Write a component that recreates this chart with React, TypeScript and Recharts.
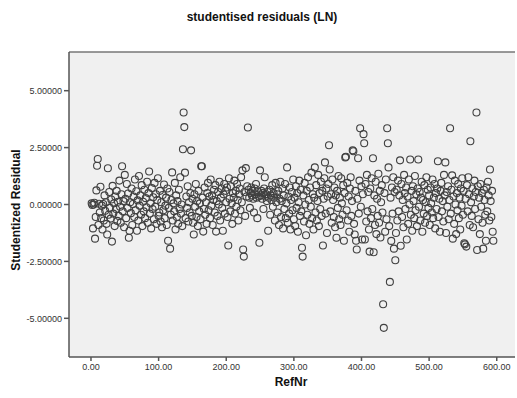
import React from "react";
import {
  ScatterChart,
  Scatter,
  XAxis,
  YAxis,
  CartesianGrid,
  ReferenceLine,
} from "recharts";

// studentized residuals, RefNr 1..595 in order
const ref001 = [
  0.05, -0.02, -1.05, 0.0, 0.08, -1.5, -0.55, 0.62, 1.7, 2.0,
  -0.9, 0.03, -0.35, 0.78, -0.6, -0.05, -1.1, 0.02, -0.7, 0.4,
  -0.28, 0.1, -0.85, -1.32, 1.59, -0.45, 0.55, -0.15, -0.62, 0.22,
  -1.63, 0.82, -0.4, 0.05, -0.95, 0.35, -0.2, 0.6, -0.72, 0.12,
  -0.5, 1.05, -0.1, -0.8, 0.45, 1.68, -0.3, 0.15, -1.0, 1.3,
];
const ref051 = [
  0.25, -0.6, 0.9, -0.15, 0.48, -1.46, -1.15, 0.1, -0.38, 0.7,
  -0.9, 0.02, 0.35, -0.55, 1.1, -0.25, 0.58, -1.15, 0.18, -0.7,
  1.25, -0.05, 0.4, -0.45, 0.85, -0.95, 0.12, -0.3, 0.65, -0.6,
  0.28, -0.12, 1.0, -0.8, 0.5, 1.45, -0.4, 0.05, -1.05, 0.72,
  -0.2, 0.32, -0.65, 0.95, -0.1, 0.45, -0.85, 0.2, 1.15, -0.5,
];
const ref101 = [
  -0.35, 0.6, -0.75, 0.1, -1.0, 0.42, -0.25, 0.88, -0.6, -0.05,
  0.3, -0.9, 0.7, -1.59, -0.15, 0.55, -1.94, -0.45, 0.2, 1.41,
  -0.7, 0.05, -0.3, 0.95, -1.1, 0.4, -0.55, 0.15, -0.85, 0.65,
  -0.2, 1.2, -0.4, 0.0, -0.95, 2.43, 4.04, 3.4, 1.4, -0.6,
  0.35, -0.15, 0.8, -0.75, 0.1, -0.35, 0.5, 2.38, -0.5, 0.25,
];
const ref151 = [
  -0.8, -1.32, 0.45, -0.1, 0.9, -0.55, 0.15, -0.95, 0.6, -0.3,
  0.05, -0.65, 1.68, 1.68, 0.3, -1.19, -0.2, 0.75, -0.45, 0.1,
  -0.85, 0.5, 0.95, -0.25, 0.35, -0.6, 1.1, -0.05, 0.4, -0.9,
  0.2, 0.65, -0.35, 0.85, -1.19, 0.15, -0.5, 0.55, 0.0, 1.0,
  -0.7, 0.3, 0.7, -0.15, -1.15, 0.45, 0.9, -0.4, 0.6, 0.1,
];
const ref201 = [
  0.75, -0.55, -1.8, 1.15, 0.25, -0.3, 0.8, 0.05, -0.85, 0.5,
  0.3, 1.05, -0.4, 0.6, -0.1, 0.9, 0.2, -0.7, 0.45, 0.7,
  -0.25, 1.2, 0.1, 1.5, -1.98, -2.29, 0.55, -0.5, 1.6, 0.35,
  0.8, 3.38, 0.65, 0.3, -0.15, 0.5, 0.75, 0.4, 0.6, 0.25,
  -0.35, 0.7, 0.45, 0.9, 0.3, -0.6, 0.55, 0.35, -1.68, 1.5,
];
const ref251 = [
  0.4, 0.6, 0.25, 0.5, -0.2, 0.7, 1.2, 0.35, 0.45, 0.15,
  0.55, -1.15, 0.3, 0.65, -0.45, 0.4, 0.2, 0.85, -0.1, 0.5,
  0.3, -0.7, 0.95, 0.1, 0.45, -0.35, 0.6, -0.9, 0.25, 1.0,
  -0.55, 0.15, 0.7, -1.05, 0.4, -0.2, 0.9, -0.6, 0.05, 1.63,
  -0.8, 0.35, -0.4, 0.75, -1.1, 0.2, 0.55, -0.25, 1.1, -0.65,
];
const ref301 = [
  0.3, -0.95, 0.8, -0.15, 0.5, -1.2, 0.1, 1.05, -0.5, 0.65,
  -0.3, -1.9, -2.29, 0.4, -0.75, 0.95, 0.0, -1.35, 0.6, -0.45,
  1.2, 0.2, -0.85, 0.75, -0.1, 1.4, -0.6, 0.45, -1.1, 0.3,
  1.63, -0.35, 0.85, -0.7, 0.15, 1.3, -0.95, 0.5, -0.2, 1.0,
  -0.5, 0.6, -1.8, 0.25, 1.15, 1.85, -0.4, 0.7, -1.25, 0.35,
];
const ref351 = [
  0.9, 2.6, 1.54, -0.3, 0.45, -0.8, 1.1, 0.2, -0.55, 0.75,
  -1.0, 0.4, -1.46, 0.6, -0.15, 1.25, -0.65, 0.3, -0.9, 1.15,
  0.05, -0.45, 0.85, -1.59, 0.5, 2.07, 2.1, -0.25, 0.95, -0.7,
  0.35, -1.2, 0.7, 1.2, -0.5, 0.15, 2.38, 2.34, -0.85, -1.32,
  0.6, -1.59, -1.98, 0.25, 2.03, -0.4, 1.05, 3.35, -0.1, 0.8,
];
const ref401 = [
  -1.54, 0.45, 3.09, 2.69, -1.54, 0.9, -0.75, 1.3, -0.3, 0.55,
  -1.1, -2.07, 0.7, -0.6, 1.15, -0.2, 2.03, -2.1, 0.4, -0.9,
  1.0, -1.3, 0.25, -0.5, 1.35, -0.8, 0.6, -1.45, 0.1, 0.85,
  -0.35, -4.38, -5.42, 0.5, -1.2, 1.1, -0.65, 3.35, 2.69, 1.63,
  -0.95, -3.4, 0.3, -1.6, 0.75, -0.4, 1.2, -1.94, 0.55, -2.45,
];
const ref451 = [
  -1.25, 0.65, -0.7, 1.05, -0.3, 0.4, 1.94, -1.81, 0.9, -0.55,
  0.2, -1.0, 1.3, 0.5, -0.2, 0.75, -1.54, 0.35, -0.85, 1.1,
  0.0, 1.98, -0.45, 0.6, -1.15, 0.8, 0.15, -0.6, 1.25, -0.25,
  0.45, -0.95, 0.7, 1.98, -0.1, 0.55, -0.7, 0.3, 1.0, -1.2,
  0.2, -0.4, 0.85, -0.8, 0.1, 1.2, -0.5, 0.65, -0.15, 0.4,
];
const ref501 = [
  -0.9, 0.75, 0.05, -0.35, 1.1, -0.6, 0.3, 0.9, -1.05, 0.5,
  -0.2, 0.7, 1.9, -0.55, 0.25, -1.2, 0.6, 0.95, -0.3, 0.15,
  -0.75, 1.3, 0.4, 1.85, -1.25, 0.55, -0.1, 0.8, -0.65, 0.2,
  3.35, -0.4, 0.65, 1.28, -1.5, 0.35, -0.85, 1.05, 0.0, -1.3,
  0.5, -0.25, 0.9, -0.6, 0.3, -1.1, 0.7, -0.05, 1.15, -0.45,
];
const ref551 = [
  0.6, -1.7, -1.75, 0.25, -1.85, 0.85, -0.3, 1.2, 0.45, -0.9,
  2.78, 0.1, -0.5, 0.7, -1.0, 0.35, 1.05, -0.2, 0.55, 4.04,
  -2.0, 0.8, -0.65, 0.3, -1.3, 0.9, -0.1, 0.5, -0.8, -1.94,
  0.65, 0.2, -0.45, -1.59, 0.75, -0.3, 1.0, 0.4, -0.7, 1.54,
  0.15, -0.55, 0.6, -1.2, -1.59,
];

const xTicks = [0, 100, 200, 300, 400, 500, 600];
const yTicks = [-5, -2.5, 0, 2.5, 5];

const data = [
  ref001, ref051, ref101, ref151, ref201, ref251,
  ref301, ref351, ref401, ref451, ref501, ref551,
]
  .flat()
  .map((residual, i) => ({ refNr: i + 1, residual }));

const font = "'Liberation Sans', Arial, sans-serif";
const axisColor = "#555";

const Ring = (props: any) => (
  <circle cx={props.cx} cy={props.cy} r={3.5} fill="none" stroke="#404040" strokeWidth={1.1} />
);

export default function App() {
  return (
    <div style={{ position: "absolute", left: 0, top: 0, width: 517, height: 398, background: "#fff" }}>
      <svg width={517} height={398} style={{ position: "absolute", left: 0, top: 0 }}>
        <text x={262} y={21} textAnchor="middle" fontFamily={font} fontSize={12} fontWeight="bold" fill="#111">
          studentised residuals (LN)
        </text>
        <text
          x={0}
          y={0}
          transform="translate(20,210) rotate(-90)"
          textAnchor="middle"
          fontFamily={font}
          fontSize={12}
          fontWeight="bold"
          fill="#111"
        >
          Studentized Residual
        </text>
        <text x={291} y={386} textAnchor="middle" fontFamily={font} fontSize={12} fontWeight="bold" fill="#111">
          RefNr
        </text>
      </svg>
      <div style={{ position: "absolute", left: 0, top: 0 }}>
        <ScatterChart width={517} height={398} margin={{ top: 52, right: 2, bottom: 11, left: 9 }}>
          <CartesianGrid fill="#f0f0f0" stroke="none" horizontal={false} vertical={false} />
          <XAxis
            type="number"
            dataKey="refNr"
            domain={[-32.5, 627]}
            ticks={xTicks}
            tickFormatter={(v) => Number(v).toFixed(2)}
            height={30}
            tickSize={4}
            tickMargin={3}
            stroke={axisColor}
            strokeWidth={1.5}
            tick={{ fontSize: 9, fill: "#333", fontFamily: font }}
            allowDataOverflow
          />
          <YAxis
            type="number"
            dataKey="residual"
            domain={[-6.7, 6.7]}
            ticks={yTicks}
            tickFormatter={(v) => Number(v).toFixed(5)}
            width={60}
            tickSize={5}
            tickMargin={2}
            stroke={axisColor}
            strokeWidth={1.5}
            tick={{ fontSize: 9, fill: "#333", fontFamily: font }}
            allowDataOverflow
          />
          <ReferenceLine y={6.7} stroke="#777" strokeWidth={1.5} />
          <Scatter data={data} shape={Ring} isAnimationActive={false} />
        </ScatterChart>
      </div>
    </div>
  );
}
